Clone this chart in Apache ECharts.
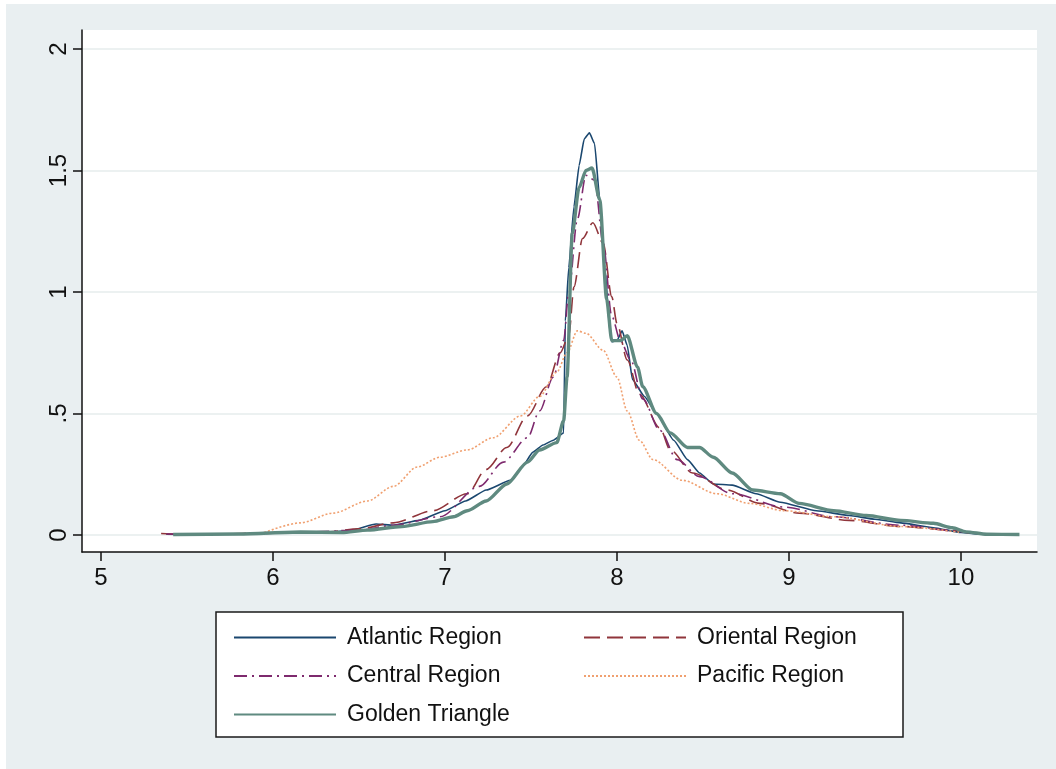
<!DOCTYPE html>
<html>
<head>
<meta charset="utf-8">
<script src="https://cdn.jsdelivr.net/npm/echarts@6/dist/echarts.min.js"></script>
<style>
  html, body { margin: 0; padding: 0; background: #fff; }
  #chart { width: 1056px; height: 769px; }
</style>
</head>
<body>
<div id="chart"></div>
<script>
// tick values
const xTicks = [5, 6, 7, 8, 9, 10]
const yTicks = [0, 0.5, 1, 1.5, 2]

// density curves, [x, density]
const atlantic = [
  [5.38, 0.003], [5.6, 0.002], [5.9, 0.006], [6.1, 0.012], [6.3, 0.01], [6.45, 0.018],
  [6.6, 0.045], [6.7, 0.04], [6.85, 0.06], [7.0, 0.1], [7.12, 0.14], [7.24, 0.185],
  [7.38, 0.225], [7.45, 0.28], [7.51, 0.34], [7.57, 0.37], [7.63, 0.39], [7.69, 0.42],
  [7.7, 0.88], [7.72, 1.1], [7.75, 1.35], [7.78, 1.52], [7.81, 1.63], [7.84, 1.655],
  [7.87, 1.61], [7.9, 1.38], [7.93, 1.1], [7.96, 0.83], [7.97, 0.795], [8.0, 0.8],
  [8.03, 0.84], [8.06, 0.78], [8.09, 0.64], [8.16, 0.57], [8.23, 0.5], [8.33, 0.39],
  [8.41, 0.31], [8.48, 0.255], [8.56, 0.21], [8.67, 0.205], [8.81, 0.17], [8.95, 0.135],
  [9.16, 0.1], [9.35, 0.08], [9.5, 0.065], [9.65, 0.05], [9.84, 0.03], [10.0, 0.01], [10.1, 0.003]
]
const oriental = [
  [5.35, 0.006], [5.45, 0.003], [5.7, 0.004], [6.0, 0.01], [6.3, 0.012], [6.5, 0.025],
  [6.7, 0.05], [6.93, 0.1], [7.13, 0.17], [7.24, 0.27], [7.36, 0.36], [7.48, 0.49],
  [7.59, 0.61], [7.67, 0.75], [7.72, 0.82], [7.75, 1.02], [7.8, 1.22], [7.86, 1.285],
  [7.92, 1.2], [7.97, 0.98], [8.0, 0.87], [8.06, 0.72], [8.13, 0.58], [8.25, 0.44],
  [8.31, 0.35], [8.44, 0.255], [8.64, 0.185], [8.83, 0.13], [9.06, 0.09], [9.35, 0.06],
  [9.65, 0.035], [9.94, 0.02], [10.05, 0.008]
]
const central = [
  [5.38, 0.004], [5.6, 0.002], [5.9, 0.006], [6.2, 0.012], [6.5, 0.02], [6.7, 0.04],
  [6.97, 0.075], [7.2, 0.2], [7.34, 0.3], [7.48, 0.4], [7.55, 0.51], [7.63, 0.65],
  [7.69, 0.8], [7.72, 1.0], [7.77, 1.3], [7.82, 1.48], [7.87, 1.46], [7.92, 1.2],
  [7.97, 0.9], [8.02, 0.8], [8.08, 0.72], [8.15, 0.56], [8.25, 0.43], [8.35, 0.31],
  [8.48, 0.24], [8.67, 0.17], [8.97, 0.115], [9.26, 0.075], [9.65, 0.04], [10.0, 0.015], [10.1, 0.005]
]
const pacific = [
  [5.95, 0.01], [6.16, 0.05], [6.35, 0.09], [6.55, 0.14], [6.7, 0.2], [6.84, 0.28],
  [6.97, 0.32], [7.13, 0.35], [7.28, 0.4], [7.44, 0.49], [7.55, 0.57], [7.65, 0.67],
  [7.71, 0.75], [7.77, 0.84], [7.82, 0.83], [7.92, 0.76], [8.0, 0.65], [8.06, 0.51],
  [8.13, 0.39], [8.21, 0.31], [8.38, 0.225], [8.58, 0.17], [8.77, 0.13], [8.97, 0.1],
  [9.26, 0.075], [9.65, 0.035], [10.0, 0.01]
]
const golden = [
  [5.42, 0.002], [5.8, 0.004], [6.16, 0.012], [6.4, 0.01], [6.55, 0.02], [6.75, 0.035],
  [6.93, 0.055], [7.05, 0.075], [7.13, 0.1], [7.24, 0.14], [7.36, 0.21], [7.48, 0.3],
  [7.55, 0.35], [7.65, 0.38], [7.69, 0.47], [7.71, 0.65], [7.74, 1.24], [7.78, 1.43],
  [7.82, 1.5], [7.855, 1.51], [7.9, 1.38], [7.94, 0.97], [7.97, 0.8], [8.02, 0.8],
  [8.06, 0.82], [8.12, 0.69], [8.15, 0.61], [8.23, 0.5], [8.31, 0.42], [8.41, 0.36],
  [8.48, 0.36], [8.56, 0.32], [8.67, 0.255], [8.79, 0.185], [8.95, 0.17], [9.06, 0.13],
  [9.26, 0.1], [9.45, 0.08], [9.65, 0.06], [9.84, 0.048], [9.95, 0.03], [10.03, 0.013],
  [10.15, 0.003], [10.34, 0.002]
]

const FONT = 'Liberation Sans'

function line(name, data, color, width, type, smooth) {
  return {
    name: name,
    type: 'line',
    data: data,
    symbol: 'none',
    showSymbol: false,
    smooth: smooth,
    smoothMonotone: 'x',
    animation: false,
    lineStyle: { color: color, width: width, type: type },
    itemStyle: { color: color }
  }
}

const legendCommon = {
  orient: 'vertical',
  top: 621,
  itemWidth: 102,
  itemHeight: 20,
  itemGap: 15.5,
  selectedMode: false,
  itemStyle: { opacity: 0 },
  textStyle: { fontFamily: FONT, fontSize: 23, color: '#111', padding: [0, 0, 0, 6] }
}

const chart = echarts.init(document.getElementById('chart'))
chart.setOption({
  backgroundColor: '#ffffff',
  animation: false,
  graphic: [
    { type: 'rect', z: -10, silent: true, shape: { x: 6, y: 4, width: 1050, height: 765 }, style: { fill: '#e9eff1' } },
    { type: 'rect', z: -1, silent: true, shape: { x: 216, y: 612, width: 687, height: 125 }, style: { fill: '#fff', stroke: '#1a1a1a', lineWidth: 1.5 } }
  ],
  grid: {
    left: 82, top: 30, width: 955, height: 522,
    show: true, backgroundColor: '#fff', borderWidth: 0
  },
  xAxis: {
    type: 'value',
    min: 4.89,
    max: 10.442,
    axisLine: { onZero: false, lineStyle: { color: '#111', width: 1.5 } },
    axisTick: { customValues: xTicks, length: 9, lineStyle: { color: '#111', width: 1.5 } },
    axisLabel: { customValues: xTicks, margin: 14, fontFamily: FONT, fontSize: 24, color: '#111' },
    splitLine: { show: false }
  },
  yAxis: {
    type: 'value',
    min: -0.07,
    max: 2.078,
    axisLine: { show: true, onZero: false, lineStyle: { color: '#111', width: 1.5 } },
    axisTick: { show: true, customValues: yTicks, length: 9, lineStyle: { color: '#111', width: 1.5 } },
    axisLabel: {
      customValues: yTicks,
      rotate: 90,
      margin: 11,
      fontFamily: FONT,
      fontSize: 24,
      color: '#111',
      formatter: v => (v > 0 && v < 1 ? String(v).replace('0.', '.') : String(v))
    },
    splitLine: { show: true, lineStyle: { color: '#e6ecec', width: 1.5 } }
  },
  legend: [
    Object.assign({ left: 228, data: ['Atlantic Region', 'Central Region', 'Golden Triangle'] }, legendCommon),
    Object.assign({ left: 578, data: ['Oriental Region', 'Pacific Region'] }, legendCommon)
  ],
  series: [
    line('Atlantic Region', atlantic, '#1a476f', 1.6, 'solid', 0.15),
    line('Oriental Region', oriental, '#90353b', 1.6, [16, 7], 0.3),
    line('Central Region', central, '#7e2a6e', 1.6, [13, 5, 2, 5], 0.3),
    line('Pacific Region', pacific, '#f0a070', 1.6, [2, 2], 0.3),
    line('Golden Triangle', golden, '#5f8a80', 3.4, 'solid', 0.25)
  ]
})
</script>
</body>
</html>
